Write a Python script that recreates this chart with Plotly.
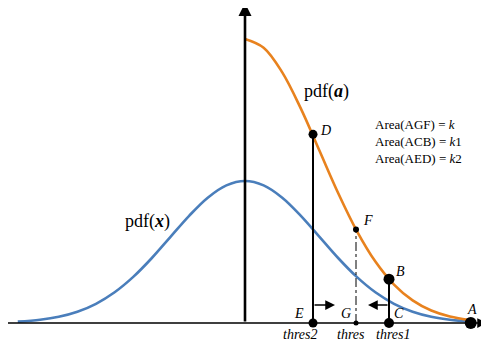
import plotly.graph_objects as go

# ---- data (x in sigma units, y in pdf units) ----
blue_x = [-3.05, -2.75, -2.5, -2.25, -2.0, -1.75, -1.5, -1.25, -1.0, -0.75, -0.5, -0.25,
          0.0, 0.25, 0.5, 0.75, 1.0, 1.25, 1.5, 1.75, 2.0, 2.25, 2.5, 2.75, 3.03]
blue_y = [0.0038, 0.0091, 0.0175, 0.0317, 0.0540, 0.0863, 0.1295, 0.1826, 0.2420, 0.3011, 0.3521, 0.3867,
          0.3989, 0.3867, 0.3521, 0.3011, 0.2420, 0.1826, 0.1295, 0.0863, 0.0540, 0.0317, 0.0175, 0.0091, 0.0040]

orange_x = [0.0, 0.25, 0.5, 0.75, 1.0, 1.25, 1.5, 1.75, 2.0, 2.25, 2.5, 2.75, 3.03]
orange_y = [0.7979, 0.7734, 0.7041, 0.6022, 0.4839, 0.3653, 0.2590, 0.1726, 0.1080, 0.0635, 0.0350, 0.0182, 0.0081]

thresholds = [0.913, 1.49, 1.933]          # thres2, thres, thres1
threshold_labels = ["thres2", "thres", "thres1"]
curve_pts_y = [0.530, 0.263, 0.123]        # D, F, B on pdf(a)
curve_pts_labels = ["D", "F", "B"]
axis_pts_labels = ["E", "G", "C"]
a_x = 3.03
area_lines = ["Area(AGF) = <i>k</i>", "Area(ACB) = <i>k</i>1", "Area(AED) = <i>k</i>2"]

BLUE = "#4a7ebb"
ORANGE = "#e8821e"
SERIF = "Liberation Serif, Times New Roman, serif"

PX = 0.3989 / 142.0   # y units per pixel
XPX = 1 / 74.5        # x units per pixel
OFF = 8               # page body margin offset in pixels

fig = go.Figure()

# curves
fig.add_trace(go.Scatter(x=blue_x, y=blue_y, mode="lines",
                         line=dict(color=BLUE, width=2.6, shape="spline", smoothing=1.0),
                         hoverinfo="skip"))
fig.add_trace(go.Scatter(x=orange_x, y=orange_y, mode="lines",
                         line=dict(color=ORANGE, width=2.6, shape="spline", smoothing=1.0),
                         hoverinfo="skip"))

# horizontal axis with arrow
fig.add_annotation(x=(487 - 245) * XPX, y=0, ax=(5 - 245) * XPX, ay=0, xref="x", yref="y",
                   axref="x", ayref="y", text="", showarrow=True, arrowhead=2, arrowsize=1.3,
                   arrowwidth=1.5, arrowcolor="black")
# vertical axis with arrow
fig.add_annotation(x=0, y=320 * PX, ax=0, ay=0, xref="x", yref="y", axref="x", ayref="y",
                   text="", showarrow=True, arrowhead=2, arrowsize=1.0, arrowwidth=2.6,
                   arrowcolor="black")

# vertical lines from the curve down to the axis
styles = [("solid", 2.0), ("dashdot", 1.0), ("solid", 2.0)]
for tx, ty, (dash, w) in zip(thresholds, curve_pts_y, styles):
    fig.add_trace(go.Scatter(x=[tx, tx], y=[0, ty], mode="lines",
                             line=dict(color="black", width=w, dash=dash), hoverinfo="skip"))

# small direction arrows
arrow_y = 18 * PX
fig.add_annotation(x=thresholds[0] + 22 * XPX, y=arrow_y, ax=thresholds[0], ay=arrow_y,
                   xref="x", yref="y", axref="x", ayref="y", text="", showarrow=True,
                   arrowhead=2, arrowsize=1.3, arrowwidth=1.5, arrowcolor="black")
fig.add_annotation(x=thresholds[2] - 21 * XPX, y=arrow_y, ax=thresholds[2], ay=arrow_y,
                   xref="x", yref="y", axref="x", ayref="y", text="", showarrow=True,
                   arrowhead=2, arrowsize=1.3, arrowwidth=1.5, arrowcolor="black")

# markers
curve_sizes = [9, 6, 11]
axis_sizes = [9, 5, 10]
fig.add_trace(go.Scatter(x=thresholds, y=curve_pts_y, mode="markers", opacity=1,
                         marker=dict(color="#000000", size=curve_sizes, opacity=1,
                                     line=dict(width=0)), hoverinfo="skip"))
fig.add_trace(go.Scatter(x=thresholds + [a_x], y=[0, 0, 0, 0], mode="markers", opacity=1,
                         marker=dict(color="#000000", size=axis_sizes + [12], opacity=1,
                                     line=dict(width=0)), hoverinfo="skip"))

lab_font = dict(family=SERIF, size=14, color="black")

# curve point labels
curve_shifts = [(5, 4), (5, 9), (5, 8)]
for tx, ty, lab, (xs, ys) in zip(thresholds, curve_pts_y, curve_pts_labels, curve_shifts):
    fig.add_annotation(x=tx, y=ty, text=f"<i>{lab}</i>", showarrow=False, xanchor="left",
                       xshift=xs, yshift=ys, font=lab_font)

# axis point labels
axis_specs = [("right", -7, 10), ("right", -3, 10), ("left", 3, 10)]
for tx, lab, (anc, xs, ys) in zip(thresholds, axis_pts_labels, axis_specs):
    fig.add_annotation(x=tx, y=0, text=f"<i>{lab}</i>", showarrow=False, xanchor=anc,
                       xshift=xs, yshift=ys, font=lab_font)
fig.add_annotation(x=a_x, y=0, text="<i>A</i>", showarrow=False, xanchor="center",
                   yanchor="bottom", xshift=1, yshift=4, font=lab_font)

# threshold labels
thr_shifts = [-13, -5, 4]
for tx, lab, xs in zip(thresholds, threshold_labels, thr_shifts):
    fig.add_annotation(x=tx, y=0, text=f"<i>{lab}</i>", showarrow=False, xanchor="center",
                       xshift=xs, yshift=-11, font=lab_font)

# curve names
fig.add_annotation(x=(326 - 245) * XPX, y=(323 - 91) * PX, text="pdf(<b><i>a</i></b>)",
                   showarrow=False, font=dict(family=SERIF, size=18, color="black"))
fig.add_annotation(x=(147 - 245) * XPX, y=(323 - 221) * PX, text="pdf(<b><i>x</i></b>)",
                   showarrow=False, font=dict(family=SERIF, size=18, color="black"))

# area texts
fig.add_annotation(x=(373 - 245) * XPX, y=(323 - 141) * PX, text="<br>".join(area_lines),
                   showarrow=False, xanchor="left", align="left",
                   font=dict(family=SERIF, size=13, color="black"))

# ranges compensate for the 8px page margin so the drawing lands where the reference has it
fig.update_xaxes(visible=False, range=[(OFF - 245) * XPX, (OFF + 489 - 245) * XPX], fixedrange=True)
fig.update_yaxes(visible=False, range=[(323 - OFF - 347) * PX, (323 - OFF) * PX], fixedrange=True)
fig.update_layout(width=489, height=347, margin=dict(l=0, r=0, t=0, b=0),
                  paper_bgcolor="white", plot_bgcolor="white", showlegend=False)

fig.write_html("out.html")
